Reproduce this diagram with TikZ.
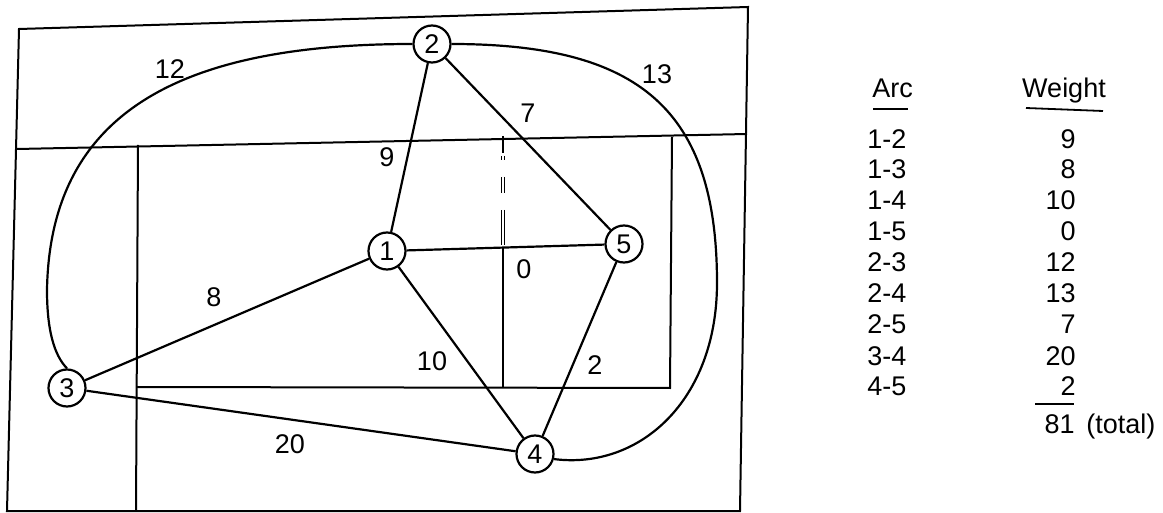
\documentclass[tikz,border=0pt]{standalone}
\usepackage{fontspec}
\setmainfont{Liberation Sans}
\begin{document}
\begin{tikzpicture}[x=0.5pt,y=-0.5pt,
  ln/.style={line width=1.1pt, line join=round},
  thinln/.style={line width=1pt},
  vtx/.style={circle, draw, line width=1.1pt, minimum size=18.5pt, inner sep=0pt, fill=white, font=\fontsize{13.5}{14}\selectfont},
  lbl/.style={inner sep=0pt, font=\fontsize{13.5}{14}\selectfont},
  tbl/.style={inner sep=0pt, font=\fontsize{13.5}{14}\selectfont}]
\useasboundingbox (0,0) rectangle (1163,513);
% frame and cuts
\draw[thinln] (19,29) -- (748,7) -- (740,511) -- (7,511) -- cycle;
\draw[thinln] (17,149) -- (747,134);
\draw[thinln] (138,145) -- (136,511);
\draw[thinln] (672,137) -- (670,388) -- (137,387);
\draw[thinln] (503,247) -- (503,388);
\draw[thinln] (503,136) -- (503,153);
\draw[line width=0.35pt, double distance=0.9pt] (503,156) -- (503,160);
\draw[line width=0.35pt, double distance=0.9pt] (503,177) -- (503,193);
\draw[line width=0.35pt, double distance=0.9pt] (503,210) -- (503,245);
% vertices
\node[vtx] (n1) at (387,251) {1};
\node[vtx] (n2) at (432,44) {2};
\node[vtx] (n3) at (67,388) {3};
\node[vtx] (n4) at (535,454) {4};
\node[vtx] (n5) at (624,244) {5};
\coordinate (l23) at (47,290);
\coordinate (r24) at (717,283);
% arcs
\draw[ln] (n1) -- (n2);
\draw[ln] (n1) -- (n3);
\draw[ln] (n1) -- (n4);
\draw[ln] (n1) -- (n5);
\draw[ln] (n2) -- (n5);
\draw[ln] (n3) -- (n4);
\draw[ln] (n4) -- (n5);
\draw[ln] (n2.west) .. controls (184,44) and (50,110) .. (l23)
  .. controls (47,330) and (54,355) .. (n3.north);
\draw[ln] (n2.east) .. controls (640,44) and (717,110) .. (r24)
  .. controls (717,400) and (640,470) .. (n4.-15);
% weights
\node[lbl] (w12) at (170,69) {12};
\node[lbl] (w13) at (657,74) {13};
\node[lbl] (w7) at (528,113) {7};
\node[lbl] (w9) at (387,157) {9};
\node[lbl] (w0) at (524,269) {0};
\node[lbl] (w8) at (214,297) {8};
\node[lbl] (w10) at (432,361) {10};
\node[lbl] (w2) at (595,365) {2};
\node[lbl] (w20) at (290,444) {20};
% table
\node[tbl, anchor=base west] (harc) at (872,98) {Arc};
\node[tbl, anchor=base] (hw) at (1064,98) {Weight};
\draw[line width=0.9pt] (873,109) -- (908,109);
\draw[line width=0.9pt] (1026,108) -- (1103,111);
\foreach \a/\w/\y [count=\i] in {1-2/9/149,1-3/8/179,1-4/10/210,1-5/0/241,2-3/12/272,2-4/13/303,2-5/7/334,3-4/20/365,4-5/2/395}{
  \node[tbl, anchor=base west] (a\i) at (867,\y) {\a};
  \node[tbl, anchor=base east] (v\i) at (1076,\y) {\w};
}
\draw[line width=0.9pt] (1035,404) -- (1074,404);
\node[tbl, anchor=base east] (tot) at (1075,434) {81};
\node[tbl, anchor=base west] (totl) at (1086,434) {(total)};
\end{tikzpicture}
\end{document}
